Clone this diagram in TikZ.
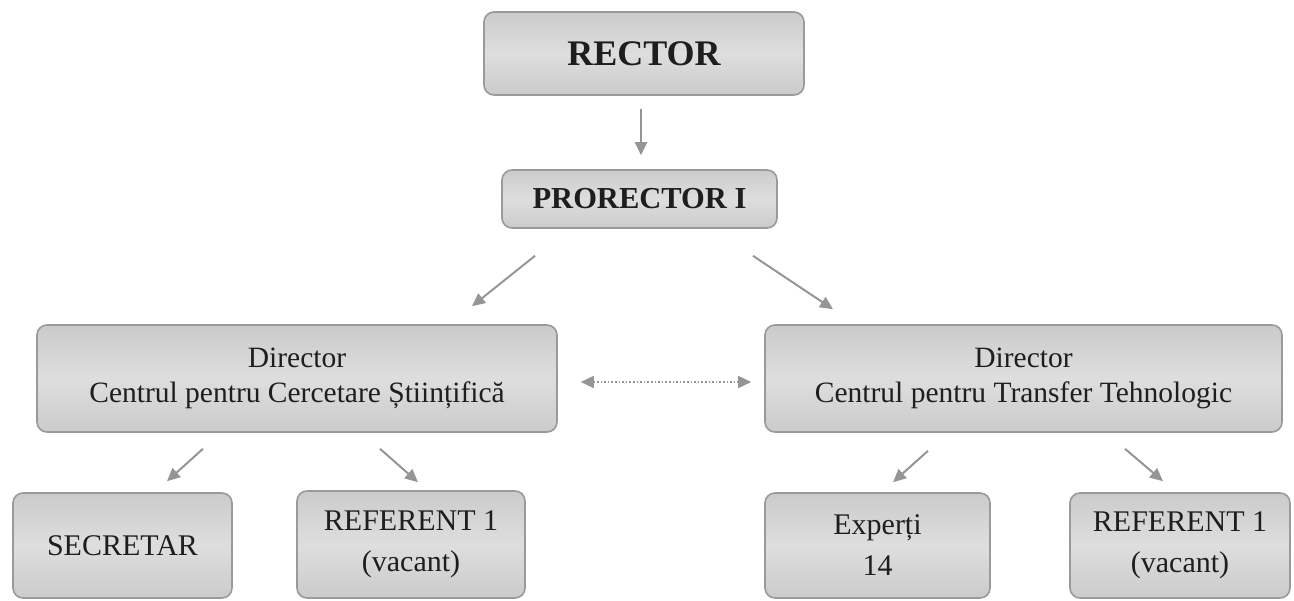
\documentclass[tikz,border=0pt]{standalone}
\usepackage{fontspec}
\setmainfont{Liberation Serif}
\usetikzlibrary{arrows.meta}
\definecolor{boxline}{HTML}{9A9A9A}
\definecolor{boxfill}{HTML}{CBCBCB}
\definecolor{boxmid}{HTML}{DEDEDE}
\definecolor{arrowgray}{HTML}{959595}
\definecolor{txt}{HTML}{1E1E1E}
\tikzset{
  orgbox/.style={rectangle, rounded corners=10pt, draw=boxline, line width=1.6pt,
    top color=boxfill, bottom color=boxfill, middle color=boxmid,
    align=center, text=txt, inner sep=0pt},
  bigtxt/.style={font=\fontsize{29.5}{35}\selectfont},
  lowtxt/.style={font=\fontsize{30}{41}\selectfont},
  conn/.style={draw=arrowgray, line width=2pt, -{Triangle[length=13pt,width=12pt]}},
  dotconn/.style={draw=arrowgray, line width=1.6pt, dotted,
    {Triangle[length=13pt,width=12pt]}-{Triangle[length=13pt,width=12pt]}}
}
\begin{document}
\begin{tikzpicture}[x=1pt,y=-1pt]
\useasboundingbox (0,0) rectangle (1294,601);
% boxes
\node[orgbox, minimum width=320pt, minimum height=83pt, font=\fontsize{36}{40}\selectfont\bfseries] (rector) at (644,53.5) {RECTOR};
\node[orgbox, minimum width=275pt, minimum height=58pt, font=\fontsize{30.5}{34}\selectfont\bfseries] (pro) at (639.5,199) {PRORECTOR I};
\node[orgbox, bigtxt, minimum width=520pt, minimum height=107pt] (dcs) at (297,378.5) {Director\\Centrul pentru Cercetare Științifică};
\node[orgbox, bigtxt, minimum width=517pt, minimum height=107pt] (dtt) at (1023.5,378.5) {Director\\Centrul pentru Transfer Tehnologic};
\node[orgbox, lowtxt, minimum width=219pt, minimum height=105pt] (sec) at (122.5,545.5) {SECRETAR};
\node[orgbox, lowtxt, minimum width=228pt, minimum height=107pt] (refl) at (411,544.5) {REFERENT 1\\(vacant)};
\node[orgbox, lowtxt, minimum width=225pt, minimum height=105pt] (exp) at (877.5,545.5) {Experți\\14};
\node[orgbox, lowtxt, minimum width=220pt, minimum height=105pt] (refr) at (1180,545.5) {REFERENT 1\\(vacant)};
% connector end points
\coordinate (a1) at ([xshift=-3pt,yshift=-13pt]rector.south);
\coordinate (a2) at ([xshift=1.5pt,yshift=14pt]pro.north);
\coordinate (b1) at ([xshift=-104.5pt,yshift=-27pt]pro.south);
\coordinate (b2) at ([xshift=175pt,yshift=18pt]dcs.north);
\coordinate (c1) at ([xshift=113.5pt,yshift=-27pt]pro.south);
\coordinate (c2) at ([xshift=-190.5pt,yshift=15pt]dtt.north);
\coordinate (d1) at ([xshift=23pt,yshift=-3.5pt]dcs.east);
\coordinate (d2) at ([xshift=-13pt,yshift=-3.5pt]dtt.west);
\coordinate (e1) at ([xshift=-94pt,yshift=-16pt]dcs.south);
\coordinate (e2) at ([xshift=44.5pt,yshift=11pt]sec.north);
\coordinate (f1) at ([xshift=83pt,yshift=-16pt]dcs.south);
\coordinate (f2) at ([xshift=7pt,yshift=8pt]refl.north);
\coordinate (g1) at ([xshift=-95.5pt,yshift=-18pt]dtt.south);
\coordinate (g2) at ([xshift=15.5pt,yshift=10pt]exp.north);
\coordinate (h1) at ([xshift=101.5pt,yshift=-16pt]dtt.south);
\coordinate (h2) at ([xshift=-17pt,yshift=11pt]refr.north);
% connectors
\draw[conn] (a1) -- (a2);
\draw[conn] (b1) -- (b2);
\draw[conn] (c1) -- (c2);
\draw[dotconn] (d1) -- (d2);
\draw[conn] (e1) -- (e2);
\draw[conn] (f1) -- (f2);
\draw[conn] (g1) -- (g2);
\draw[conn] (h1) -- (h2);
\end{tikzpicture}
\end{document}
